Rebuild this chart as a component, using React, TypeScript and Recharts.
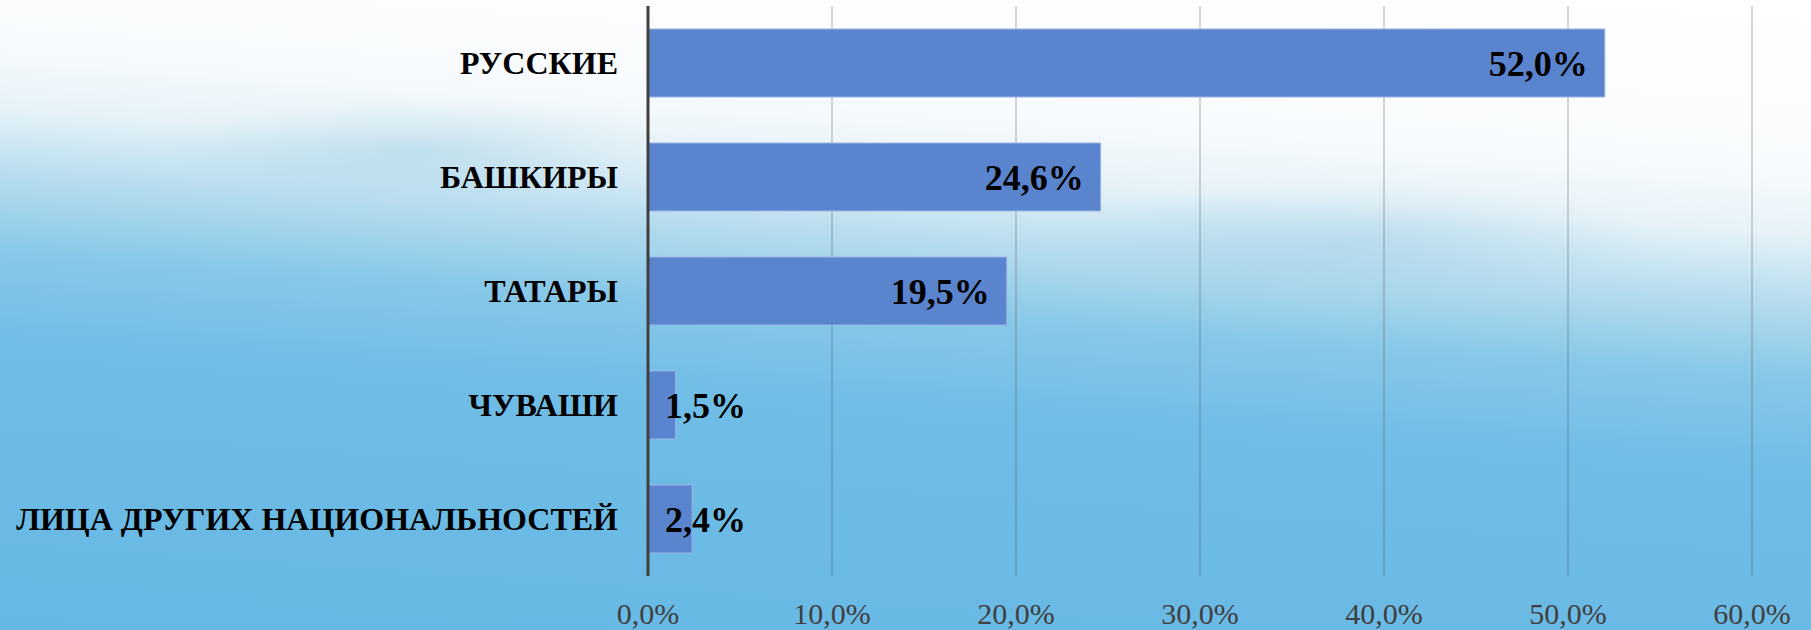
import React from 'react';
import { BarChart, Bar, XAxis, YAxis, CartesianGrid, LabelList } from 'recharts';

const categories = [
  'РУССКИЕ',
  'БАШКИРЫ',
  'ТАТАРЫ',
  'ЧУВАШИ',
  'ЛИЦА ДРУГИХ НАЦИОНАЛЬНОСТЕЙ',
];
const shares = [52.0, 24.6, 19.5, 1.5, 2.4];
const xTicks = [0, 10, 20, 30, 40, 50, 60];

const data = categories.map((name, i) => ({ name, value: shares[i] }));

const fmt = (v: number) => `${v.toFixed(1).replace('.', ',')}%`;
const serif = '"Liberation Serif", "Times New Roman", serif';

const CategoryTick = (props: any) => {
  const { x, y, payload } = props;
  return (
    <text
      x={x - 30}
      y={y + 11}
      textAnchor="end"
      fontFamily={serif}
      fontWeight="bold"
      fontSize={32}
      fill="#000"
    >
      {payload.value}
    </text>
  );
};

const PercentTick = (props: any) => {
  const { x, y, payload } = props;
  return (
    <text
      x={x}
      y={y + 42}
      textAnchor="middle"
      fontFamily={serif}
      fontSize={30}
      fill="#404040"
    >
      {fmt(payload.value)}
    </text>
  );
};

const ValueLabel = (props: any) => {
  const { x, y, width, height, value } = props;
  const fits = width > 140;
  return (
    <text
      x={fits ? x + width - 17 : x + 17}
      y={y + height / 2 + 13}
      textAnchor={fits ? 'end' : 'start'}
      fontFamily={serif}
      fontWeight="bold"
      fontSize={36}
      fill="#000"
    >
      {fmt(Number(value))}
    </text>
  );
};

export default function App() {
  return (
    <div
      style={{
        position: 'absolute',
        left: 0,
        top: 0,
        width: 1811,
        height: 630,
        overflow: 'hidden',
        background:
          'radial-gradient(ellipse 260px 50px at 420px 150px, rgba(140,195,220,0.35), rgba(140,195,220,0) 100%),' +
          'radial-gradient(ellipse 300px 60px at 1350px 240px, rgba(140,195,225,0.3), rgba(140,195,225,0) 100%),' +
          'linear-gradient(184deg, #ffffff 0%, #f8fbfd 22%, #e6f2f8 31%, #b6dcee 40%, #88c8e8 50%, #70bde6 62%, #66b8e4 100%)',
      }}
    >
      <BarChart
        width={1811}
        height={630}
        data={data}
        layout="vertical"
        barSize={68}
        margin={{ top: 6, right: 59, bottom: 0, left: 0 }}
      >
        <CartesianGrid
          horizontal={false}
          stroke="rgba(60,60,60,0.4)"
          strokeWidth={1}
        />
        <XAxis
          type="number"
          domain={[0, 60]}
          ticks={xTicks}
          interval={0}
          height={54}
          axisLine={false}
          tickLine={false}
          tickSize={6}
          tickMargin={0}
          tick={<PercentTick />}
        />
        <YAxis
          type="category"
          dataKey="name"
          width={648}
          interval={0}
          tickLine={false}
          tickSize={0}
          tickMargin={0}
          axisLine={{ stroke: '#404040', strokeWidth: 3 }}
          tick={<CategoryTick />}
        />
        <Bar
          dataKey="value"
          fill="#5b84cf"
          stroke="#9ab6e6"
          strokeWidth={1}
          isAnimationActive={false}
        >
          <LabelList dataKey="value" content={<ValueLabel />} />
        </Bar>
      </BarChart>
    </div>
  );
}
